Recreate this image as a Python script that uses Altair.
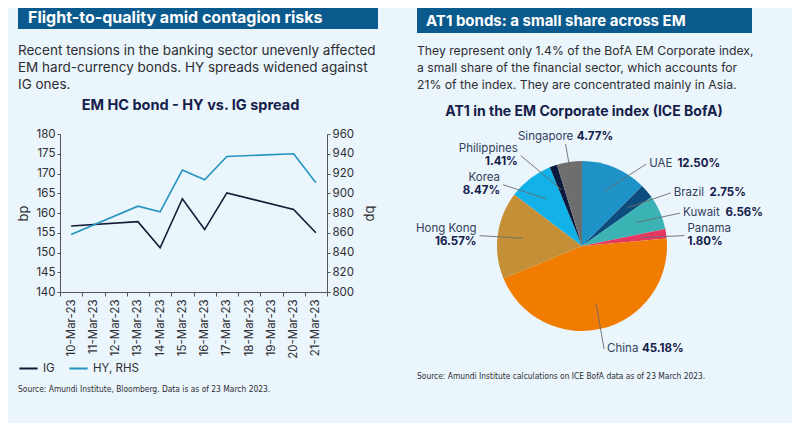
import math
import altair as alt
import pandas as pd

# ---------------- data ----------------
dates = ["10-Mar-23", "11-Mar-23", "12-Mar-23", "13-Mar-23", "14-Mar-23", "15-Mar-23",
         "16-Mar-23", "17-Mar-23", "18-Mar-23", "19-Mar-23", "20-Mar-23", "21-Mar-23"]
ig_spread = [156.7, None, None, 157.8, 151.2, 163.6, 155.8, 165.1, None, None, 160.9, 155.0]
hy_spread = [858.2, None, None, 886.9, 881.2, 923.5, 913.7, 937.3, None, None, 940.0, 910.6]
series_names = ["IG", "HY, RHS"]
ig_ticks = [140, 145, 150, 155, 160, 165, 170, 175, 180]
hy_ticks = [800, 820, 840, 860, 880, 900, 920, 940, 960]

countries = ["UAE", "Brazil", "Kuwait", "Panama", "China", "Hong Kong", "Korea", "Philippines", "Singapore"]
shares = [12.50, 2.75, 6.56, 1.80, 45.18, 16.57, 8.47, 1.41, 4.77]
two_line_labels = ["Panama", "Hong Kong", "Korea", "Philippines"]

left_header = "Flight-to-quality amid contagion risks"
left_text = ["Recent tensions in the banking sector unevenly affected",
             "EM hard-currency bonds. HY spreads widened against",
             "IG ones."]
left_title = "EM HC bond - HY vs. IG spread"
left_source = "Source: Amundi Institute, Bloomberg. Data is as of 23 March 2023."
right_header = "AT1 bonds: a small share across EM"
right_text = ["They represent only 1.4% of the BofA EM Corporate index,",
              "a small share of the financial sector, which accounts for",
              "21% of the index. They are concentrated mainly in Asia."]
right_title = "AT1 in the EM Corporate index (ICE BofA)"
right_source = "Source: Amundi Institute calculations on ICE BofA data as of 23 March 2023."

# ---------------- styles ----------------
BG = "#eaf5fc"
HEADER_BG = "#0b5a8d"
IG_COLOR = "#151b36"
HY_COLOR = "#2594c0"
slice_colors = ["#1f93c7", "#0c4d7d", "#3bb3b5", "#e5375f", "#f07d00",
                "#c48f37", "#12b2e8", "#0b1a3c", "#6e6e6e"]
FONT = "Inter"
COND = "DejaVu Sans Condensed, Liberation Sans Narrow, Liberation Sans, sans-serif"
TEXT = "#2e2e33"
NAVY = "#15204a"
AX = "#555555"

W, H = 267, 158          # line chart plot area
PAD = {"left": 52, "top": 126, "right": 465, "bottom": 131}

# ---------------- line chart ----------------
lines_df = pd.DataFrame({
    "date": dates * 2,
    "series": [series_names[0]] * len(dates) + [series_names[1]] * len(dates),
    "spread": ig_spread + hy_spread,
}).dropna()

x_enc = alt.X("date:O",
              scale=alt.Scale(domain=dates, type="band", paddingInner=0, paddingOuter=0),
              bandPosition=0.5,
              axis=alt.Axis(title=None, labelAngle=270, tickBand="extent", labelFontSize=11.5,
                            labelColor=TEXT, labelPadding=3, tickSize=4, tickColor=AX,
                            domainColor=AX, grid=False))
legend = alt.Legend(title=None, orient="none", legendX=-42, legendY=224, direction="horizontal",
                    symbolType="stroke", symbolStrokeWidth=2, symbolSize=330, labelFontSize=11.5,
                    labelColor=TEXT, columnPadding=10, labelOffset=4, padding=0)
color_enc = alt.Color("series:N", scale=alt.Scale(domain=series_names, range=[IG_COLOR, HY_COLOR]),
                      legend=legend)

ig_layer = alt.Chart(lines_df).transform_filter(alt.datum.series == series_names[0]).mark_line(
    strokeWidth=1.6).encode(
    x=x_enc,
    y=alt.Y("spread:Q", scale=alt.Scale(domain=[ig_ticks[0], ig_ticks[-1]], nice=False, zero=False),
            axis=alt.Axis(orient="left", values=ig_ticks, title="bp", titleFontSize=13,
                          titleFontWeight="normal", titleColor=TEXT, titlePadding=5,
                          labelFontSize=11.5, labelColor=TEXT, labelPadding=2, tickSize=3,
                          tickColor=AX, domainColor=AX, grid=False)),
    color=color_enc,
)
hy_layer = alt.Chart(lines_df).transform_filter(alt.datum.series == series_names[1]).mark_line(
    strokeWidth=1.6).encode(
    x=x_enc,
    y=alt.Y("spread:Q", scale=alt.Scale(domain=[hy_ticks[0], hy_ticks[-1]], nice=False, zero=False),
            axis=alt.Axis(orient="right", values=hy_ticks, title="bp", titleFontSize=13,
                          titleFontWeight="normal", titleColor=TEXT, titlePadding=9,
                          labelFontSize=11.5, labelColor=TEXT, labelPadding=2, tickSize=3,
                          tickColor=AX, domainColor=AX, grid=False)),
    color=color_enc,
)
line_chart = alt.layer(ig_layer, hy_layer).resolve_scale(y="independent")

# ---------------- pie ----------------
CX, CY = 522, 112
R_PIE = 85
R_LAB = 106
R_IN = 0.7 * R_PIE
F = 0.75

pie_df = pd.DataFrame({"country": countries, "share": shares, "order": list(range(len(countries)))})

arcs = alt.Chart(pie_df).mark_arc(outerRadius=R_PIE).encode(
    theta=alt.Theta("share:Q", stack=True),
    order=alt.Order("order:Q"),
    color=alt.Color("country:N", scale=alt.Scale(domain=countries, range=slice_colors), legend=None),
    x=alt.value(CX), y=alt.value(CY),
)


def text_w(s, bold=False, size=11.5):
    w = 0.0
    for ch in s:
        if ch in "il.,:;'|!I":
            w += 0.27
        elif ch in "fjrt-":
            w += 0.38
        elif ch == " ":
            w += 0.28
        elif ch in "mw":
            w += 0.85
        elif ch in "MW":
            w += 0.95
        elif ch.isupper():
            w += 0.70
        elif ch.isdigit():
            w += 0.62
        elif ch == "%":
            w += 0.85
        else:
            w += 0.57
    return w * size * (1.06 if bold else 1.0)


total = sum(shares)
cum = 0.0
labels = []
for name, v in zip(countries, shares):
    mid = 2 * math.pi * (cum + v / 2) / total
    cum += v
    s, c = math.sin(mid), math.cos(mid)
    two = name in two_line_labels
    if c > 0 and abs(s) < 0.2:
        side, ang = "T", mid
    elif s >= 0:
        side = "R"
        ang = math.pi / 2 - (math.pi / 2 - mid) * F if c > 0 else mid
    else:
        side = "L"
        ang = 1.5 * math.pi + (mid - 1.5 * math.pi) * F if c > 0 else mid
    r = R_LAB + (4 if side == "T" else 0)
    labels.append(dict(name=name, value=v, mid=mid, side=side, two=two,
                       lx=CX + r * math.sin(ang), ly=CY - r * math.cos(ang),
                       h=26 if two else 13))

for side in "LR":
    grp = sorted([l for l in labels if l["side"] == side], key=lambda l: l["ly"])
    for _ in range(200):
        moved = False
        for a, b in zip(grp, grp[1:]):
            need = (a["h"] + b["h"]) / 2 + 3
            d = b["ly"] - a["ly"]
            if d < need - 1e-6:
                a["ly"] -= (need - d) / 2
                b["ly"] += (need - d) / 2
                moved = True
        if not moved:
            break

pieces, leaders = [], []
for l in labels:
    name, val = l["name"], f"{l['value']:.2f}%"
    wn, wv = text_w(name), text_w(val, bold=True)
    dy = 6.5 if l["two"] else 0
    if l["side"] == "L":
        align = "right"
        nx = l["lx"] if l["two"] else l["lx"] - wv - 4
        vx = l["lx"]
        ex, ey = l["lx"] + 3, l["ly"]
    elif l["side"] == "R":
        align = "left"
        nx = l["lx"]
        vx = l["lx"] if l["two"] else l["lx"] + wn + 4
        ex, ey = l["lx"] - 3, l["ly"]
    else:
        align = "left"
        nx = l["lx"] - (wn + 4 + wv) / 2
        vx = nx + wn + 4
        ex, ey = l["lx"], l["ly"] + 7
    pieces.append(dict(text=name, x=nx, y=l["ly"] - dy, align=align, kind="name"))
    pieces.append(dict(text=val, x=vx, y=l["ly"] + dy, align=align, kind="value"))
    leaders.append(dict(x=CX + R_IN * math.sin(l["mid"]), y=CY - R_IN * math.cos(l["mid"]),
                        x2=ex, y2=ey))

pieces_df = pd.DataFrame(pieces)
leaders_df = pd.DataFrame(leaders)

leader_layer = alt.Chart(leaders_df).mark_rule(color="#6b6b6b", strokeWidth=0.9).encode(
    x=alt.X("x:Q", scale=None, axis=None), y=alt.Y("y:Q", scale=None, axis=None),
    x2="x2:Q", y2="y2:Q")


def label_layer(align, kind):
    weight = "bold" if kind == "value" else "normal"
    col = NAVY if kind == "value" else "#33405a"
    return alt.Chart(pieces_df).transform_filter(
        (alt.datum.align == align) & (alt.datum.kind == kind)
    ).mark_text(align=align, baseline="middle", fontSize=11.5, fontWeight=weight, color=col).encode(
        x=alt.X("x:Q", scale=None, axis=None), y=alt.Y("y:Q", scale=None, axis=None), text="text:N")


label_layers = [label_layer(a, k) for a in ["left", "right"] for k in ["name", "value"]]

# ---------------- decorations ----------------
one = alt.Data(values=[{"k": 1}])


def rect(x, x2, y, y2, color):
    return alt.Chart(one).mark_rect(color=color).encode(
        x=alt.value(x), x2=alt.value(x2), y=alt.value(y), y2=alt.value(y2))


def txt(x, y, text, size, color, weight="normal", align="left", font=FONT, line_height=None):
    kw = dict(align=align, baseline="alphabetic", fontSize=size, color=color, fontWeight=weight, font=font)
    if line_height:
        kw["lineHeight"] = line_height
    return alt.Chart(one).mark_text(**kw).encode(x=alt.value(x), y=alt.value(y), text=alt.value(text))


decor = [
    rect(-42, 318, -131, -105, HEADER_BG),
    rect(357, 692, -126, -101, HEADER_BG),
    txt(-32, -111.5, left_header, 16, "white", weight="bold"),
    txt(366, -108, right_header, 15, "white", weight="bold"),
    txt(-42, -79.5, left_text, 13.5, TEXT, line_height=17.3),
    txt(357, -79, right_text, 12.2, TEXT, line_height=17.2),
    txt(130.5, -24, left_title, 14.5, NAVY, weight="bold", align="center"),
    txt(524, -18.5, right_title, 14, NAVY, weight="bold", align="center"),
    txt(-42, 258, left_source, 8.4, TEXT, font=COND),
    txt(357, 245, right_source, 8.4, TEXT, font=COND),
]

chart = alt.layer(line_chart, arcs, leader_layer, *label_layers, *decor).resolve_scale(
    x="independent", y="independent", color="independent"
).properties(
    width=W, height=H, padding=PAD, autosize=alt.AutoSizeParams(type="none"), background=BG
).configure(font=FONT).configure_view(stroke=None)

chart.save("out.html", embed_options={"renderer": "svg", "actions": False})
